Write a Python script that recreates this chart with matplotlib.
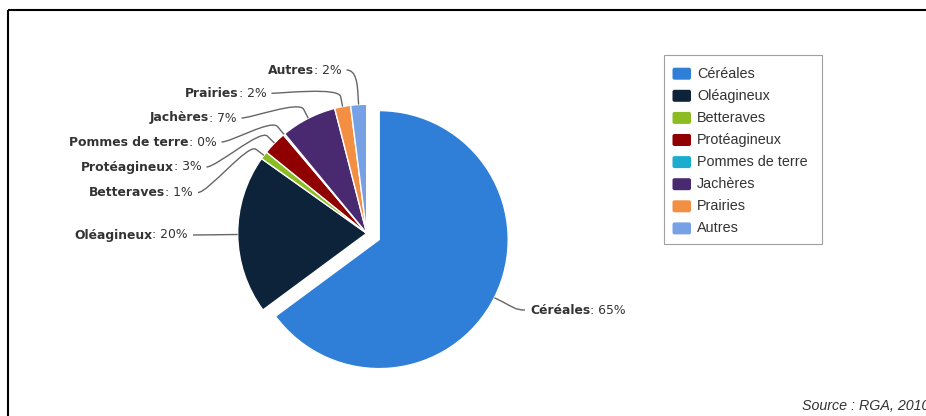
import matplotlib
matplotlib.use('Agg')
import matplotlib.pyplot as plt
from matplotlib.path import Path
from matplotlib.patches import PathPatch, Rectangle, FancyBboxPatch
import numpy as np

# données (RGA 2010)
categories = ['Céréales', 'Oléagineux', 'Betteraves', 'Protéagineux',
              'Pommes de terre', 'Jachères', 'Prairies', 'Autres']
shares = [65, 20, 1, 3, 0.2, 7, 2, 2]
colors = ['#2f7ed8', '#0d233a', '#8bbc21', '#910000',
          '#1aadce', '#492970', '#f28f43', '#77a1e5']
source = 'Source : RGA, 2010'

# mise en page (pixels, origine en haut à gauche)
W, H = 926, 416
label_x = [530, 188, 193, 201.5, 216.5, 236.5, 266.5, 341.5]
label_y = [310, 235, 192.5, 167, 142, 118, 93.3, 70]
label_font = 'DejaVu Sans'
label_size = 8.9
txt_color = '#333333'

fig = plt.figure(figsize=(W / 100, H / 100), dpi=100)
ax = fig.add_axes([0, 0, 1, 1])

cx, cy, r = 366.7, H - 233.3, 129
# décalage de la part "Céréales" (en pixels)
explode = [14] + [0] * (len(shares) - 1)
wedges, _ = ax.pie(shares, colors=colors, startangle=90, counterclock=False,
                   center=(cx, cy), radius=r, explode=explode,
                   wedgeprops=dict(edgecolor='white', linewidth=1))
ax.set_xlim(0, W)
ax.set_ylim(0, H)
ax.set_aspect('equal')
ax.axis('off')

renderer = fig.canvas.get_renderer()
total = sum(shares)

# étiquettes + connecteurs
for w, cat, v, lx, ly in zip(wedges, categories, shares, label_x, label_y):
    ly = H - ly
    theta = np.deg2rad((w.theta1 + w.theta2) / 2)
    u = np.array([np.cos(theta), np.sin(theta)])
    c = np.array(w.center)
    land = c + w.r * u
    brk = c + (w.r + 10) * u
    c2 = c + (w.r + 20) * u
    pct = ': %.0f%%' % (v / total * 100)
    if u[0] > 0:
        start, c1 = (lx - 5, ly), (lx - 15, ly)
        t1 = ax.text(lx, ly, cat, fontsize=label_size, family=label_font,
                     weight='bold', color=txt_color, ha='left', va='center')
        wd = t1.get_window_extent(renderer=renderer).width
        ax.text(lx + wd, ly, pct, fontsize=label_size, family=label_font,
                color=txt_color, ha='left', va='center')
    else:
        start, c1 = (lx + 5, ly), (lx + 15, ly)
        t2 = ax.text(lx, ly, pct, fontsize=label_size, family=label_font,
                     color=txt_color, ha='right', va='center')
        wd = t2.get_window_extent(renderer=renderer).width
        ax.text(lx - wd, ly, cat, fontsize=label_size, family=label_font,
                weight='bold', color=txt_color, ha='right', va='center')
    path = Path([start, c1, tuple(c2), tuple(brk), tuple(land)],
                [Path.MOVETO, Path.CURVE4, Path.CURVE4, Path.CURVE4, Path.LINETO])
    ax.add_patch(PathPatch(path, fill=False, ec='#666666', lw=1))

# légende
bx, by, bw, bh = 664, 55, 158, 189
ax.add_patch(Rectangle((bx, H - by - bh), bw, bh, fill=False, ec='#a0a0a0', lw=0.8))
for i, (cat, col) in enumerate(zip(categories, colors)):
    yc = H - (73.7 + 22.1 * i)
    ax.add_patch(FancyBboxPatch((672.5, yc - 6), 18.5, 12,
                                boxstyle='round,pad=0,rounding_size=2',
                                fc=col, ec='none'))
    ax.text(697, yc, cat, fontsize=10.4, family='Liberation Sans',
            color=txt_color, ha='left', va='center')

# source
ax.text(802.5, H - 405.5, source, fontsize=10.3, family='Liberation Sans',
        style='italic', color=txt_color, ha='left', va='center')

# cadre
ax.plot([7.5, W], [H - 10, H - 10], color='black', lw=1.5, solid_capstyle='butt')
ax.plot([7.5, 7.5], [H - 10, 0], color='black', lw=1.5, solid_capstyle='butt')

fig.savefig('out.png', dpi=100)
